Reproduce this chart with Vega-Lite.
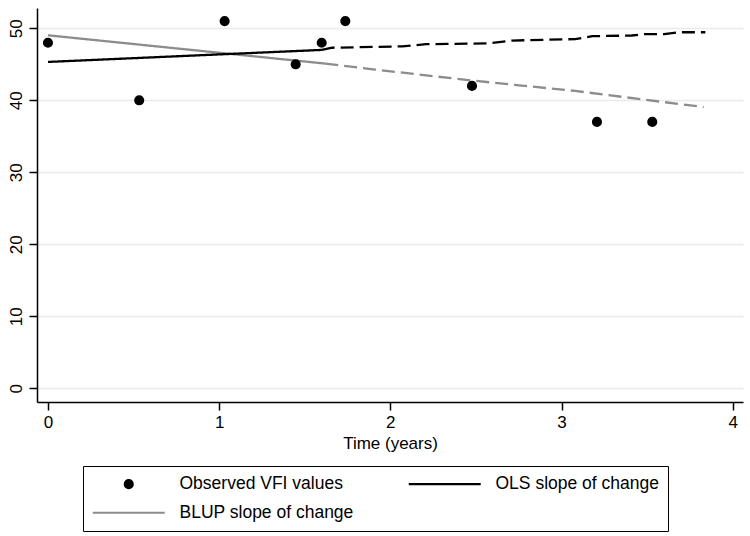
{
  "$schema": "https://vega.github.io/schema/vega-lite/v6.json",
  "width": 706,
  "height": 394,
  "autosize": {"type": "none"},
  "padding": {"left": 37, "top": 8, "right": 7, "bottom": 134},
  "background": "white",
  "config": {
    "view": {"stroke": null},
    "font": "Liberation Sans",
    "axis": {
      "domainColor": "black",
      "domainWidth": 1.5,
      "tickColor": "black",
      "tickWidth": 1.5,
      "tickSize": 8,
      "labelColor": "black",
      "labelFontSize": 17,
      "titleColor": "black",
      "titleFontSize": 17,
      "titleFontWeight": "normal"
    },
    "legend": {
      "orient": "none",
      "legendX": 46,
      "legendY": 458,
      "direction": "horizontal",
      "columns": 2,
      "symbolSize": 207,
      "symbolStrokeWidth": 2.2,
      "symbolOffset": 28,
      "labelFontSize": 17.5,
      "labelColor": "black",
      "labelLimit": 400,
      "labelOffset": 42,
      "columnPadding": 50,
      "rowPadding": 10,
      "padding": 9,
      "strokeColor": "black"
    }
  },
  "datasets": {
    "obs": [
      {"series": "Observed VFI values", "t": 0, "v": 48},
      {"series": "Observed VFI values", "t": 0.533, "v": 40},
      {"series": "Observed VFI values", "t": 1.032, "v": 51},
      {"series": "Observed VFI values", "t": 1.447, "v": 45},
      {"series": "Observed VFI values", "t": 1.599, "v": 48},
      {"series": "Observed VFI values", "t": 1.737, "v": 51},
      {"series": "Observed VFI values", "t": 2.477, "v": 42},
      {"series": "Observed VFI values", "t": 3.207, "v": 37},
      {"series": "Observed VFI values", "t": 3.53, "v": 37}
    ],
    "fit": [
      {"series": "BLUP", "seg": "solid", "t": 0, "v": 49.03},
      {"series": "BLUP", "seg": "solid", "t": 1.62, "v": 45.1},
      {"series": "BLUP", "seg": "dashed", "t": 1.62, "v": 45.1},
      {"series": "BLUP", "seg": "dashed", "t": 1.91, "v": 44.27},
      {"series": "BLUP", "seg": "dashed", "t": 2.48, "v": 42.74},
      {"series": "BLUP", "seg": "dashed", "t": 3.08, "v": 41.3},
      {"series": "BLUP", "seg": "dashed", "t": 3.83, "v": 39.06},
      {"series": "OLS", "seg": "solid", "t": 0, "v": 45.33},
      {"series": "OLS", "seg": "solid", "t": 1.6, "v": 47.0},
      {"series": "OLS", "seg": "dashed", "t": 1.6, "v": 47.0},
      {"series": "OLS", "seg": "dashed", "t": 1.66, "v": 47.3},
      {"series": "OLS", "seg": "dashed", "t": 2.07, "v": 47.5},
      {"series": "OLS", "seg": "dashed", "t": 2.21, "v": 47.8},
      {"series": "OLS", "seg": "dashed", "t": 2.57, "v": 47.9},
      {"series": "OLS", "seg": "dashed", "t": 2.71, "v": 48.3},
      {"series": "OLS", "seg": "dashed", "t": 3.08, "v": 48.5},
      {"series": "OLS", "seg": "dashed", "t": 3.18, "v": 48.9},
      {"series": "OLS", "seg": "dashed", "t": 3.41, "v": 49.0},
      {"series": "OLS", "seg": "dashed", "t": 3.49, "v": 49.2},
      {"series": "OLS", "seg": "dashed", "t": 3.6, "v": 49.2},
      {"series": "OLS", "seg": "dashed", "t": 3.69, "v": 49.45},
      {"series": "OLS", "seg": "dashed", "t": 3.84, "v": 49.45}
    ]
  },
  "encoding": {
    "x": {
      "field": "t",
      "type": "quantitative",
      "scale": {"domain": [-0.064, 4.06], "nice": false, "zero": false},
      "axis": {"values": [0, 1, 2, 3, 4], "format": "d", "title": "Time (years)", "grid": false, "labelPadding": 4, "titlePadding": 5}
    },
    "y": {
      "field": "v",
      "type": "quantitative",
      "scale": {"domain": [-1.9, 52.82], "nice": false, "zero": false},
      "axis": {"values": [0, 10, 20, 30, 40, 50], "title": null, "grid": true, "gridColor": "#eaeaea", "gridWidth": 1.5, "labelAngle": -90, "labelAlign": "center", "labelBaseline": "bottom", "labelPadding": 4}
    }
  },
  "layer": [
    {
      "data": {"name": "fit"},
      "transform": [{"filter": "datum.series === 'BLUP'"}],
      "mark": {"type": "line", "color": "#8c8c8c", "strokeWidth": 2.3},
      "encoding": {
        "strokeDash": {"field": "seg", "type": "nominal", "scale": {"domain": ["solid", "dashed"], "range": [[1, 0], [13, 6]]}, "legend": null},
        "order": {"field": "t", "type": "quantitative"}
      }
    },
    {
      "data": {"name": "fit"},
      "transform": [{"filter": "datum.series === 'OLS'"}],
      "mark": {"type": "line", "color": "black", "strokeWidth": 2.3},
      "encoding": {
        "strokeDash": {"field": "seg", "type": "nominal", "scale": {"domain": ["solid", "dashed"], "range": [[1, 0], [13, 6]]}, "legend": null},
        "order": {"field": "t", "type": "quantitative"}
      }
    },
    {
      "data": {"name": "obs"},
      "mark": {"type": "point", "filled": true, "size": 207, "opacity": 1, "strokeWidth": 2.2},
      "encoding": {
        "color": {
          "field": "series",
          "type": "nominal",
          "scale": {"domain": ["Observed VFI values", "OLS slope of change", "BLUP slope of change"], "range": ["black", "black", "#8c8c8c"]},
          "legend": {"title": null}
        },
        "stroke": {
          "field": "series",
          "type": "nominal",
          "scale": {"domain": ["Observed VFI values", "OLS slope of change", "BLUP slope of change"], "range": ["black", "black", "#8c8c8c"]},
          "legend": {"title": null}
        },
        "shape": {
          "field": "series",
          "type": "nominal",
          "scale": {"domain": ["Observed VFI values", "OLS slope of change", "BLUP slope of change"], "range": ["M-0.55,0A0.55,0.55 0 1,0 0.55,0A0.55,0.55 0 1,0 -0.55,0Z", "M-5,0H5", "M-5,0H5"]},
          "legend": {"title": null}
        }
      }
    }
  ]
}
